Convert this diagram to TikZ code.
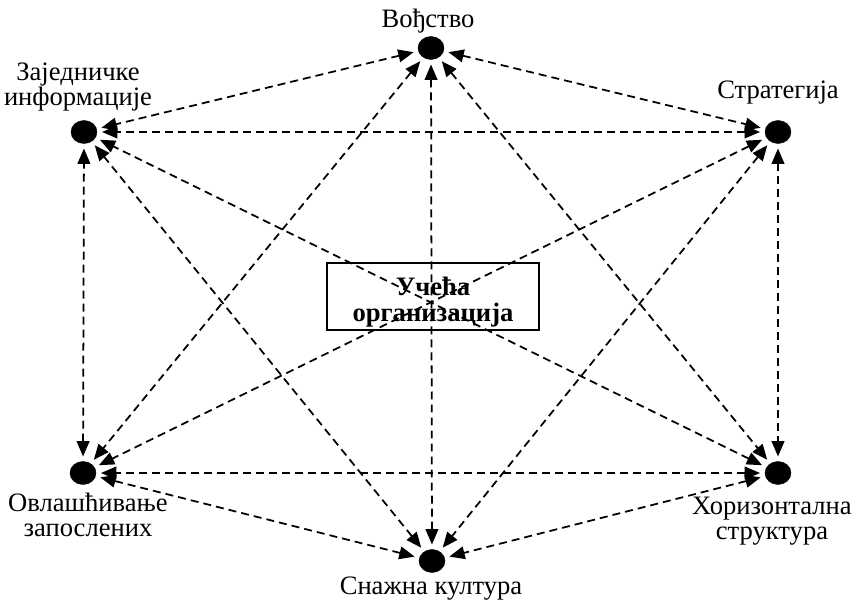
\documentclass[tikz,border=0pt]{standalone}
\usepackage{fontspec}
\setmainfont{Liberation Serif}
\usetikzlibrary{positioning, shapes.geometric, arrows.meta}

\tikzset{
  dot/.style={draw, ellipse, fill=black, minimum width=0.78cm, minimum height=0.69cm, inner sep=0pt, outer sep=0.15cm},
  lbl/.style={align=center, inner sep=0pt, anchor=base, font=\fontsize{22.7}{21.5}\selectfont},
  link/.style={dash pattern=on 6.8pt off 4.3pt, line width=1.5pt, {Triangle[length=0.46cm,width=0.38cm]}-{Triangle[length=0.46cm,width=0.38cm]}}
}

\begin{document}
\begin{tikzpicture}[x=0.03cm, y=-0.03cm]
            \useasboundingbox (0,0) rectangle (857,600);

            \node[draw, line width=1.6pt, minimum width=6.36cm, minimum height=2.01cm, inner sep=0pt] (box) at (433,296.5) {};
            \node[lbl, font=\fontsize{22.7}{23}\selectfont\bfseries] (boxtxt) at (433,322) {Учећа\\организација};

            \node[dot] (lead) at (431,48) {};
            \node[dot] (strat) at (778,132) {};
            \node[dot] (horiz) at (778,473) {};
            \node[dot] (cult) at (432,561) {};
            \node[dot] (empow) at (83,473) {};
            \node[dot] (info) at (84,132) {};

            \node[lbl] (leadtxt) at (428,28) {Вођство};
            \node[lbl] (strattxt) at (778,99) {Стратегија};
            \node[lbl] (horiztxt) at (772,540) {Хоризонтална\\структура};
            \node[lbl] (culttxt) at (431,595) {Снажна култура};
            \node[lbl] (empowtxt) at (88,537) {Овлашћивање\\запослених};
            \node[lbl] (infotxt) at (78,106) {Заједничке\\информације};

            % Draw edges
            \draw[link] (lead) -- (strat);
            \draw[link] (lead) -- (horiz);
            \draw[link] (lead) -- (cult);
            \draw[link] (lead) -- (empow);
            \draw[link] (lead) -- (info);
            \draw[link] (strat) -- (horiz);
            \draw[link] (strat) -- (cult);
            \draw[link] (strat) -- (empow);
            \draw[link] (strat) -- (info);
            \draw[link] (horiz) -- (cult);
            \draw[link] (horiz) -- (empow);
            \draw[link] (horiz) -- (info);
            \draw[link] (cult) -- (empow);
            \draw[link] (cult) -- (info);
            \draw[link] (empow) -- (info);

        \end{tikzpicture}
\end{document}
